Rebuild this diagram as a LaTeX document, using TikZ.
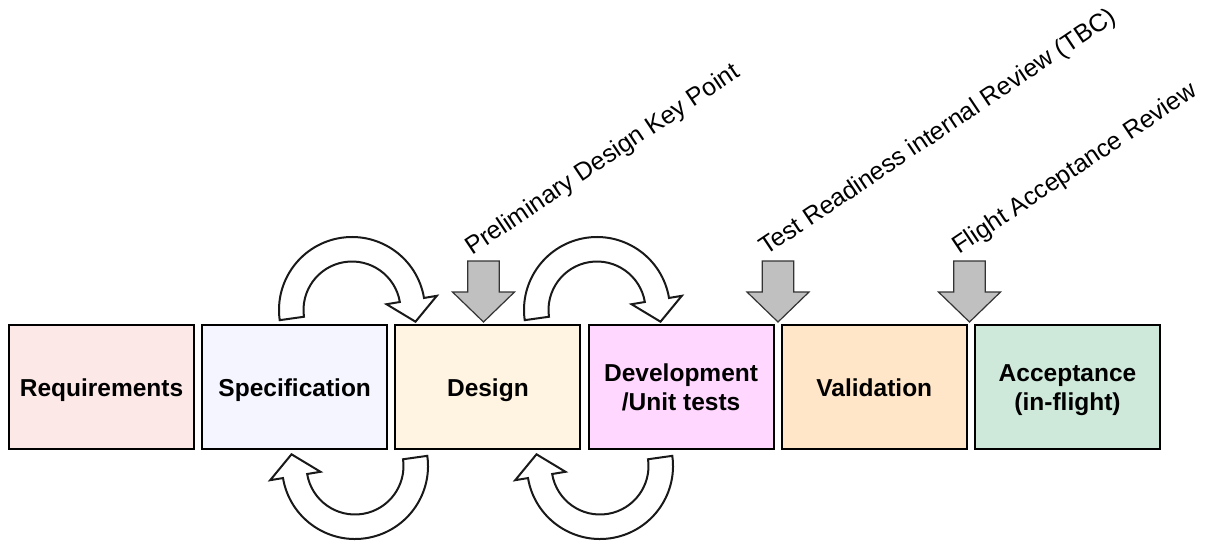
\documentclass[tikz,border=0pt]{standalone}
\usepackage{fontspec}
\setmainfont{Liberation Sans}
\definecolor{reqfill}{HTML}{FDE8E8}
\definecolor{specfill}{HTML}{F4F5FF}
\definecolor{desfill}{HTML}{FFF3E2}
\definecolor{devfill}{HTML}{FFD7FF}
\definecolor{valfill}{HTML}{FFE6C8}
\definecolor{accfill}{HTML}{CEE8DA}
\definecolor{gatefill}{HTML}{C0C0C0}
\definecolor{gateline}{HTML}{333333}
\tikzset{
  phase/.style={draw=black, line width=2pt, minimum width=185pt, minimum height=124pt,
    inner sep=0pt, align=center, text=black, text height=25.4pt, text depth=5pt,
    font=\bfseries\fontsize{24.5}{29.5}\selectfont},
  phase two/.style={phase, text height=53.4pt, text depth=5pt},
  milestone/.style={anchor=base west, rotate=33.8, inner sep=0pt,
    font=\fontsize{25}{30}\selectfont},
  gatearrow/.style={fill=gatefill, draw=gateline, line width=1.2pt, line join=miter},
  cyclearrow/.style={fill=white, draw=black!90, line width=2pt, line join=miter},
  cycle arrow/.pic={
    \path[cyclearrow] (172:73) arc[start angle=172, end angle=350.5, radius=73]
      -- (350.5:86) -- (63.5,11.7) -- (350.5:35) -- (350.5:48.5)
      arc[start angle=350.5, end angle=172, radius=48.5] -- cycle;
  },
  gate arrow/.pic={
    \path[gatearrow] (-15.8,-61) -- (15.8,-61) -- (15.8,-30) -- (31,-30) -- (0,0)
      -- (-31,-30) -- (-15.8,-30) -- cycle;
  }
}
\begin{document}
\begin{tikzpicture}[x=1pt,y=-1pt]
\useasboundingbox (0,0) rectangle (1206,543);

% phases
\node[phase, fill=reqfill]      (req)  at (101.5,386.5) {Requirements};
\node[phase, fill=specfill]     (spec) at (294.7,386.5) {Specification};
\node[phase, fill=desfill]      (des)  at (487.9,386.5) {Design};
\node[phase two, fill=devfill]  (dev)  at (681.1,386.5) {Development\\/Unit tests};
\node[phase, fill=valfill]      (val)  at (874.3,386.5) {Validation};
\node[phase two, fill=accfill]  (acc)  at (1067.5,386.5) {Acceptance\\(in-flight)};

% iteration arrows
\pic at (352,310) {cycle arrow};
\pic[rotate=180] at (355,466) {cycle arrow};
\pic at (597,310) {cycle arrow};
\pic[rotate=180] at (600,466) {cycle arrow};

% milestone arrows
\pic at (483.5,322) {gate arrow};
\pic at (778,322) {gate arrow};
\pic at (969.5,322) {gate arrow};

% milestone labels
\node[milestone] (pdkp) at (472,256) {Preliminary Design Key Point};
\node[milestone] (trr)  at (766,256) {Test Readiness internal Review (TBC)};
\node[milestone] (far)  at (959,255) {Flight Acceptance Review};
\end{tikzpicture}
\end{document}
